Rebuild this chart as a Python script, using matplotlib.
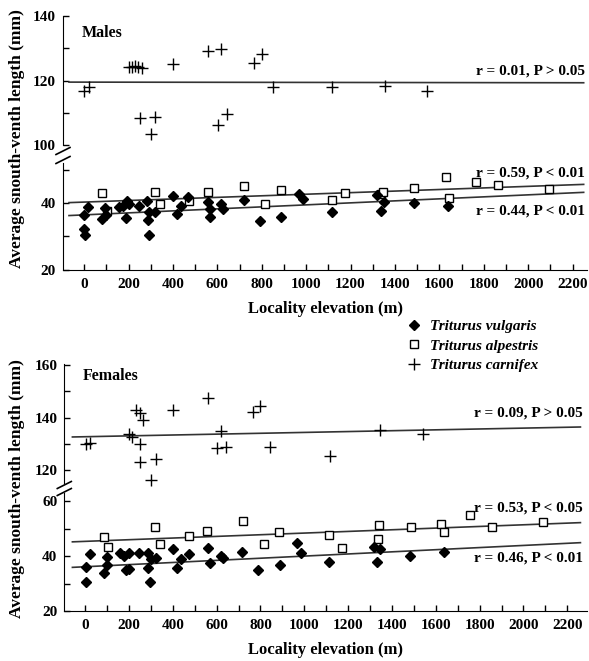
import matplotlib
matplotlib.use("Agg")
import matplotlib.pyplot as plt
from matplotlib.lines import Line2D
from matplotlib.ticker import MultipleLocator, FixedLocator

plt.rcParams['font.family'] = ['Liberation Serif', 'DejaVu Serif']
plt.rcParams['font.weight'] = 'bold'
plt.rcParams['axes.labelweight'] = 'bold'
plt.rcParams['font.size'] = 11

# ---- males: locality elevation (m) vs average snout-vent length (mm)
m_vul_x = [0, 0, 3, 18, 80, 95, 100, 155, 174, 192, 200, 189, 248, 285, 287, 294, 293, 320,
           400, 417, 435, 470, 559, 568, 568, 616, 625, 718, 790, 889, 967, 985, 1117,
           1318, 1351, 1336, 1488, 1641]
m_vul_y = [36.5, 32.3, 30.4, 38.8, 35.2, 38.5, 36.5, 38.8, 39.1, 40.7, 39.8, 35.5, 39.1, 40.7,
           35.0, 37.4, 30.4, 37.4, 42.2, 36.8, 39.3, 41.9, 40.3, 38.2, 35.8, 39.8, 38.2, 41.0,
           34.7, 35.8, 42.8, 41.2, 37.4, 42.5, 40.5, 37.8, 40.0, 39.3]
m_alp_x = [80, 102, 320, 342, 473, 557, 719, 814, 886, 1115, 1176, 1336, 1345, 1488, 1629,
           1644, 1766, 1863, 2093]
m_alp_y = [43.0, 37.7, 43.3, 39.7, 40.8, 43.3, 45.2, 39.8, 43.9, 40.9, 43.0, 42.7, 43.5, 44.5,
           47.8, 41.5, 46.3, 45.5, 44.2]
m_car_x = [1, 21, 200, 215, 230, 245, 260, 252, 320, 300, 402, 560, 617, 602, 643, 767, 800,
           850, 1118, 1353, 1544]
m_car_y = [116.7, 118.1, 124.1, 124.1, 124.6, 124.1, 123.8, 108.4, 108.8, 103.5, 125.2, 129.0,
           129.8, 106.1, 109.7, 125.5, 128.3, 117.9, 117.9, 118.2, 116.8]

# ---- females
f_vul_x = [5, 3, 23, 84, 102, 102, 160, 178, 198, 187, 201, 248, 286, 289, 294, 300, 323, 400,
           419, 437, 473, 560, 568, 618, 629, 718, 791, 887, 967, 985, 1113, 1316, 1347, 1332,
           1484, 1636]
f_vul_y = [36.1, 30.6, 40.6, 33.7, 36.7, 39.5, 41.0, 40.2, 41.0, 34.9, 35.3, 41.0, 41.0, 35.5,
           30.6, 38.8, 39.4, 42.6, 35.5, 38.9, 40.6, 43.0, 37.5, 40.2, 39.4, 41.6, 34.8, 36.6,
           44.9, 41.0, 37.8, 43.4, 42.6, 37.7, 40.1, 41.6]
f_alp_x = [84, 106, 321, 342, 473, 558, 720, 814, 884, 1114, 1172, 1342, 1335, 1485, 1626, 1638,
           1758, 1858, 2087]
f_alp_y = [47.1, 43.4, 50.5, 44.3, 47.4, 49.2, 52.7, 44.3, 48.8, 47.8, 42.8, 51.4, 46.1, 50.7,
           51.6, 48.8, 54.9, 50.7, 52.6]
f_car_x = [5, 23, 198, 213, 233, 251, 266, 251, 251, 324, 301, 403, 560, 620, 600, 641, 766, 799,
           845, 1116, 1347, 1540]
f_car_y = [130.1, 130.4, 133.9, 132.6, 143.0, 141.8, 139.2, 130.1, 123.0, 124.4, 116.2, 142.8,
           147.6, 134.9, 128.5, 128.9, 142.3, 144.3, 128.6, 125.5, 135.4, 133.9]

# regression lines (ends)
m_line_x = [-68, 2250]
m_car_line = [119.5, 119.3]
m_alp_line = [40.2, 45.7]
m_vul_line = [36.3, 43.3]
f_line_x = [-58, 2260]
f_car_line = [132.6, 136.4]
f_alp_line = [45.2, 52.2]
f_vul_line = [35.9, 44.9]

xticks = list(range(0, 2201, 200))
W, H = 589, 661


def rect(l, t, r, b):
    return [l / W, 1 - b / H, (r - l) / W, (b - t) / H]


def style(ax):
    ax.spines['top'].set_visible(False)
    ax.spines['right'].set_visible(False)
    ax.tick_params(which='both', direction='in', length=4, width=1, labelsize=11)
    ax.tick_params(axis='y', pad=5)


def scatter(ax, xs, ys, kind):
    if kind == 'vul':
        ax.plot(xs, ys, 'D', color='k', ms=5.5, ls='none', clip_on=False)
    elif kind == 'alp':
        ax.plot(xs, ys, 's', mfc='white', mec='k', mew=1, ms=6, ls='none', clip_on=False)
    else:
        ax.plot(xs, ys, '+', color='k', ms=8, mew=1, ls='none', clip_on=False)


def breaks(fig, xpix, ypix_list):
    for yp in ypix_list:
        fig.add_artist(Line2D([(xpix - 7) / W, (xpix + 7) / W],
                              [1 - (yp + 3.5) / H, 1 - (yp - 3.5) / H],
                              color='k', lw=1.2))


def panel(fig, up_rect, lo_rect, xlim, up_lim, lo_lim, up_ticks, lo_ticks,
          vx, vy, ax_, ay, cx, cy, line_x, vline, aline, cline, name, name_y):
    ax_up = fig.add_axes(up_rect)
    ax_lo = fig.add_axes(lo_rect)
    for ax in (ax_up, ax_lo):
        style(ax)
        ax.set_xlim(*xlim)
    ax_up.set_ylim(*up_lim)
    ax_lo.set_ylim(*lo_lim)
    ax_up.spines['bottom'].set_visible(False)
    ax_up.set_xticks([])
    ax_up.yaxis.set_major_locator(FixedLocator(up_ticks))
    ax_up.yaxis.set_minor_locator(MultipleLocator(10))
    ax_lo.yaxis.set_major_locator(FixedLocator(lo_ticks))
    ax_lo.yaxis.set_minor_locator(MultipleLocator(10))
    ax_lo.set_xticks(xticks)
    ax_lo.xaxis.set_minor_locator(MultipleLocator(100))
    ax_lo.tick_params(axis='x', pad=6)

    ax_up.plot(line_x, cline, color='#333333', lw=1.2)
    ax_lo.plot(line_x, aline, color='#333333', lw=1.2)
    ax_lo.plot(line_x, vline, color='#333333', lw=1.2)
    scatter(ax_up, cx, cy, 'car')
    scatter(ax_lo, ax_, ay, 'alp')
    scatter(ax_lo, vx, vy, 'vul')

    ax_up.text(0.035, name_y, name, transform=ax_up.transAxes, fontsize=11.5)
    ax_lo.set_xlabel('Locality elevation (m)', fontsize=12, fontweight='bold', labelpad=7)
    return ax_up, ax_lo


fig = plt.figure(figsize=(5.89, 6.61), dpi=100)

# top panel (males)
mu, ml = panel(fig, rect(63, 16, 587, 145), rect(63, 163.5, 587, 269.6), (-95, 2265),
               (100, 140), (20, 52), [100, 120, 140], [20, 40],
               m_vul_x, m_vul_y, m_alp_x, m_alp_y, m_car_x, m_car_y,
               m_line_x, m_vul_line, m_alp_line, m_car_line, 'Males', 0.84)
mu.text(2255, 122.8, 'r = 0.01, P > 0.05', ha='right', va='center', fontsize=11)
ml.text(2255, 49.1, 'r = 0.59, P < 0.01', ha='right', va='center', fontsize=11)
ml.text(2255, 37.7, 'r = 0.44, P < 0.01', ha='right', va='center', fontsize=11)
breaks(fig, 63, [151, 160])

# bottom panel (females)
fu, fl = panel(fig, rect(64.3, 363.7, 587, 483.2), rect(64.3, 493, 587, 611), (-95, 2290),
               (115, 160.5), (20, 63), [120, 140, 160], [20, 40, 60],
               f_vul_x, f_vul_y, f_alp_x, f_alp_y, f_car_x, f_car_y,
               f_line_x, f_vul_line, f_alp_line, f_car_line, 'Females', 0.86)
fu.text(2270, 141.6, 'r = 0.09, P > 0.05', ha='right', va='center', fontsize=11)
fl.text(2270, 57.5, 'r = 0.53, P < 0.05', ha='right', va='center', fontsize=11)
fl.text(2270, 39.3, 'r = 0.46, P < 0.01', ha='right', va='center', fontsize=11)
breaks(fig, 64.3, [485, 492])

for yc in (139, 489):
    fig.text(17 / W, 1 - yc / H, 'Average snouth-venth length (mm)', rotation=90,
             ha='center', va='center', fontsize=12.5)

handles = [Line2D([], [], marker='D', color='k', ms=5, ls='none'),
           Line2D([], [], marker='s', mfc='white', mec='k', ms=6, ls='none'),
           Line2D([], [], marker='+', color='k', ms=8, ls='none')]
labels = ['Triturus vulgaris', 'Triturus alpestris', 'Triturus carnifex']
fig.legend(handles, labels, loc='upper left', bbox_to_anchor=(399 / W, 1 - 312 / H),
           frameon=False, handlelength=1.0, handletextpad=0.5, labelspacing=0.38,
           borderpad=0, prop={'style': 'italic', 'weight': 'bold', 'size': 11})

fig.savefig('out.png', dpi=100)
